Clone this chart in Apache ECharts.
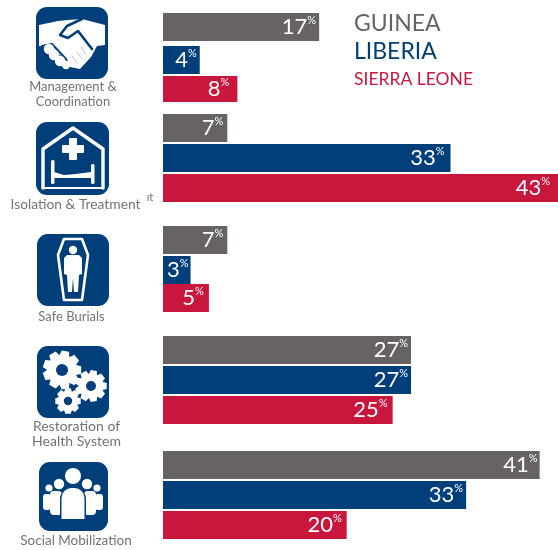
<!DOCTYPE html>
<html>
<head>
<meta charset="utf-8">
<style>
  html, body { margin: 0; padding: 0; background: #fff; }
  #chart { width: 558px; height: 550px; }
</style>
<script src="https://cdn.jsdelivr.net/npm/echarts@6/dist/echarts.min.js"></script>
</head>
<body>
<div id="chart"></div>
<script>
// bar lengths as drawn, in percent
const countries = ["GUINEA", "LIBERIA", "SIERRA LEONE"];
const categories = ["Management &\nCoordination", "Isolation & Treatment", "Safe Burials", "Restoration of\nHealth System", "Social Mobilization"];
const guinea = [17, 7, 7, 27, 41];
const liberia = [4, 31.3, 3, 27, 33];
const sierraLeone = [8.1, 43, 5, 25, 20];
// numbers printed on the bars
const guineaLabels = ["17", "7", "7", "27", "41"];
const liberiaLabels = ["4", "33", "3", "27", "33"];
const sierraLeoneLabels = ["8", "43", "5", "25", "20"];

const values = [guinea, liberia, sierraLeone];
const printed = [guineaLabels, liberiaLabels, sierraLeoneLabels];

const GRAY = "#676362";
const BLUE = "#003f7a";
const RED = "#c9163c";
const colors = [GRAY, BLUE, RED];
const FONT = "Lato";

// page layout: the rows are not evenly spaced in the original
const rowTops = [[13, 46, 76], [114, 144, 174], [226, 256, 284], [336, 366, 396], [451, 481, 511]];
const rowHeights = [[28, 28, 26], [28, 28, 28], [28, 28, 28], [28, 28, 28], [28, 28, 28]];
const labelGaps = [[3, 3, 8], [4, 6, 8], [4, 2, 5], [3, 3, 5], [2, 3, 5]];

let grid = [], xAxis = [], yAxis = [], series = [];
categories.forEach((cat, c) => {
  countries.forEach((name, k) => {
    const i = grid.length;
    grid.push({ left: 163, right: 0, top: rowTops[c][k], height: rowHeights[c][k] });
    xAxis.push({ type: "value", gridIndex: i, min: 0, max: 43, show: false });
    yAxis.push({ type: "category", gridIndex: i, data: [cat], show: false });
    series.push({
      type: "bar",
      name: name,
      xAxisIndex: i,
      yAxisIndex: i,
      barWidth: "100%",
      silent: true,
      itemStyle: { color: colors[k] },
      data: [values[k][c]],
      label: {
        show: true,
        position: "insideRight",
        distance: labelGaps[c][k],
        formatter: "{v|" + printed[k][c] + "}{p|%}",
        rich: {
          v: { fontFamily: FONT, fontSize: 22, color: "#fff", lineHeight: 24 },
          p: { fontFamily: FONT, fontSize: 11, color: "#fff", verticalAlign: "top", lineHeight: 14, padding: [0, 0, 8, 0] }
        }
      }
    });
  });
});

// white pictograms on the blue tiles, drawn in a 72x72 box
function gear(cx, cy, r, hole, teeth) {
  let pts = [];
  for (let i = 0; i < teeth; i++) {
    const a = (i / teeth) * Math.PI * 2;
    const w = Math.PI / teeth;
    [[-0.95, 0.78], [-0.55, 1], [0.55, 1], [0.95, 0.78]].forEach(p => {
      const t = a + p[0] * w;
      pts.push([cx + Math.cos(t) * r * p[1], cy + Math.sin(t) * r * p[1]]);
    });
  }
  return [
    { type: "polygon", shape: { points: pts }, style: { fill: "#fff" } },
    { type: "circle", shape: { cx: cx, cy: cy, r: hole }, style: { fill: BLUE } }
  ];
}
const fill = (points, smooth) => ({ type: "polygon", shape: { points: points, smooth: smooth || 0 }, style: { fill: "#fff" } });
const dot = (cx, cy, r, color) => ({ type: "circle", shape: { cx: cx, cy: cy, r: r }, style: { fill: color || "#fff" } });
const box = (x, y, w, h, r) => ({ type: "rect", shape: { x: x, y: y, width: w, height: h, r: r || 0 }, style: { fill: "#fff" } });
const stroke = (points, width, color, closed) => ({
  type: closed ? "polygon" : "polyline",
  shape: { points: points },
  style: { fill: closed ? "none" : null, stroke: color || "#fff", lineWidth: width, lineJoin: "round", lineCap: "round" }
});

const handshake = [
  fill([[3, 18], [22, 14], [32, 13], [46, 12], [69, 18], [69, 38], [61, 39], [55, 50], [44, 62], [34, 60], [28, 52], [16, 40], [3, 39]]),
  stroke([[46, 12], [31, 19], [24, 28], [32, 31], [42, 24], [56, 42]], 2.6, BLUE),
  stroke([[6, 39], [16, 37], [30, 52], [33, 59]], 2, BLUE),
  dot(13, 42, 5.2), dot(18, 48, 5.2), dot(24, 54, 5.2), dot(30, 58, 4.2),
  stroke([[41, 56], [36, 49]], 1, "#b9c6d8"),
  stroke([[46, 52], [41, 45]], 1, "#b9c6d8"),
  stroke([[50, 47], [45, 40]], 1, "#b9c6d8")
];
const hospital = [
  stroke([[7, 66], [7, 27], [37, 6], [67, 27], [67, 66]], 3.4),
  stroke([[7, 66], [67, 66]], 2),
  box(33, 16, 8, 22, 1),
  box(26, 23, 22, 8, 1),
  box(15, 38, 3.5, 24, 1.5),
  box(55, 42, 3.5, 20, 1.5),
  fill([[18, 50], [28, 53], [40, 52], [55, 50], [55, 56], [18, 56]])
];
const coffin = [
  stroke([[27, 5], [45, 5], [51, 21], [45, 66], [27, 66], [21, 21]], 2.6, "#fff", true),
  dot(36, 16, 4.2),
  fill([[30, 21], [42, 21], [45, 24], [45, 40], [42, 41], [41, 58], [37, 58], [36, 44], [35, 58], [31, 58], [30, 41], [27, 40], [27, 24]])
];
const gears = [].concat(gear(25, 24, 19.5, 6, 9), gear(54, 40, 16, 5, 9), gear(31, 55, 13, 4.2, 8));
const people = [
  dot(10, 26, 3.6), dot(58, 26, 3.6),
  box(4, 32, 8, 16, 3), box(56, 32, 8, 16, 3),
  dot(20, 22, 5.2), dot(48, 22, 5.2),
  box(11, 29, 12, 24, 4), box(45, 29, 12, 24, 4),
  { type: "rect", shape: { x: 21, y: 26, width: 26, height: 32, r: [11, 11, 0, 0] }, style: { fill: BLUE } },
  dot(34, 14, 8),
  { type: "rect", shape: { x: 22.5, y: 26, width: 23, height: 31, r: [10, 10, 0, 0] }, style: { fill: "#fff" } }
];

function tile(x, y, size, children) {
  return {
    type: "group",
    x: x,
    y: y,
    silent: true,
    children: [{ type: "rect", shape: { x: 0, y: 0, width: size, height: size, r: 11 }, style: { fill: BLUE } }].concat(children)
  };
}
function caption(text, x, y, size) {
  return {
    type: "text",
    x: x,
    y: y,
    silent: true,
    style: { text: text, fill: "#77736f", font: (size || 13) + "px " + FONT, textAlign: "center", textVerticalAlign: "middle", lineHeight: 15 }
  };
}

const option = {
  backgroundColor: "#fff",
  animation: false,
  grid: grid,
  xAxis: xAxis,
  yAxis: yAxis,
  series: series,
  legend: {
    left: 349,
    top: 12,
    orient: "vertical",
    icon: "none",
    itemWidth: 0,
    itemHeight: 22,
    itemGap: 5,
    selectedMode: false,
    padding: 0,
    data: [
      { name: countries[0], textStyle: { color: GRAY, fontSize: 23, fontFamily: FONT } },
      { name: countries[1], textStyle: { color: BLUE, fontSize: 23, fontFamily: FONT } },
      { name: countries[2], textStyle: { color: RED, fontSize: 17.5, fontFamily: FONT } }
    ]
  },
  graphic: {
    elements: [
      tile(36, 7, 72, handshake),
      tile(36, 122, 73, hospital),
      tile(37, 234, 72, coffin),
      tile(37, 346, 72, gears),
      tile(39, 462, 69, people),
      caption(categories[0], 73, 94),
      caption(categories[1], 75.5, 205, 13.8),
      caption(categories[2], 71.5, 317),
      caption(categories[3], 76.5, 434, 14),
      caption(categories[4], 76, 541, 13.5),
      caption("ıt", 150, 197, 11)
    ]
  }
};

const chart = echarts.init(document.getElementById("chart"));
chart.setOption(option);
window.addEventListener("resize", () => chart.resize());
</script>
</body>
</html>
